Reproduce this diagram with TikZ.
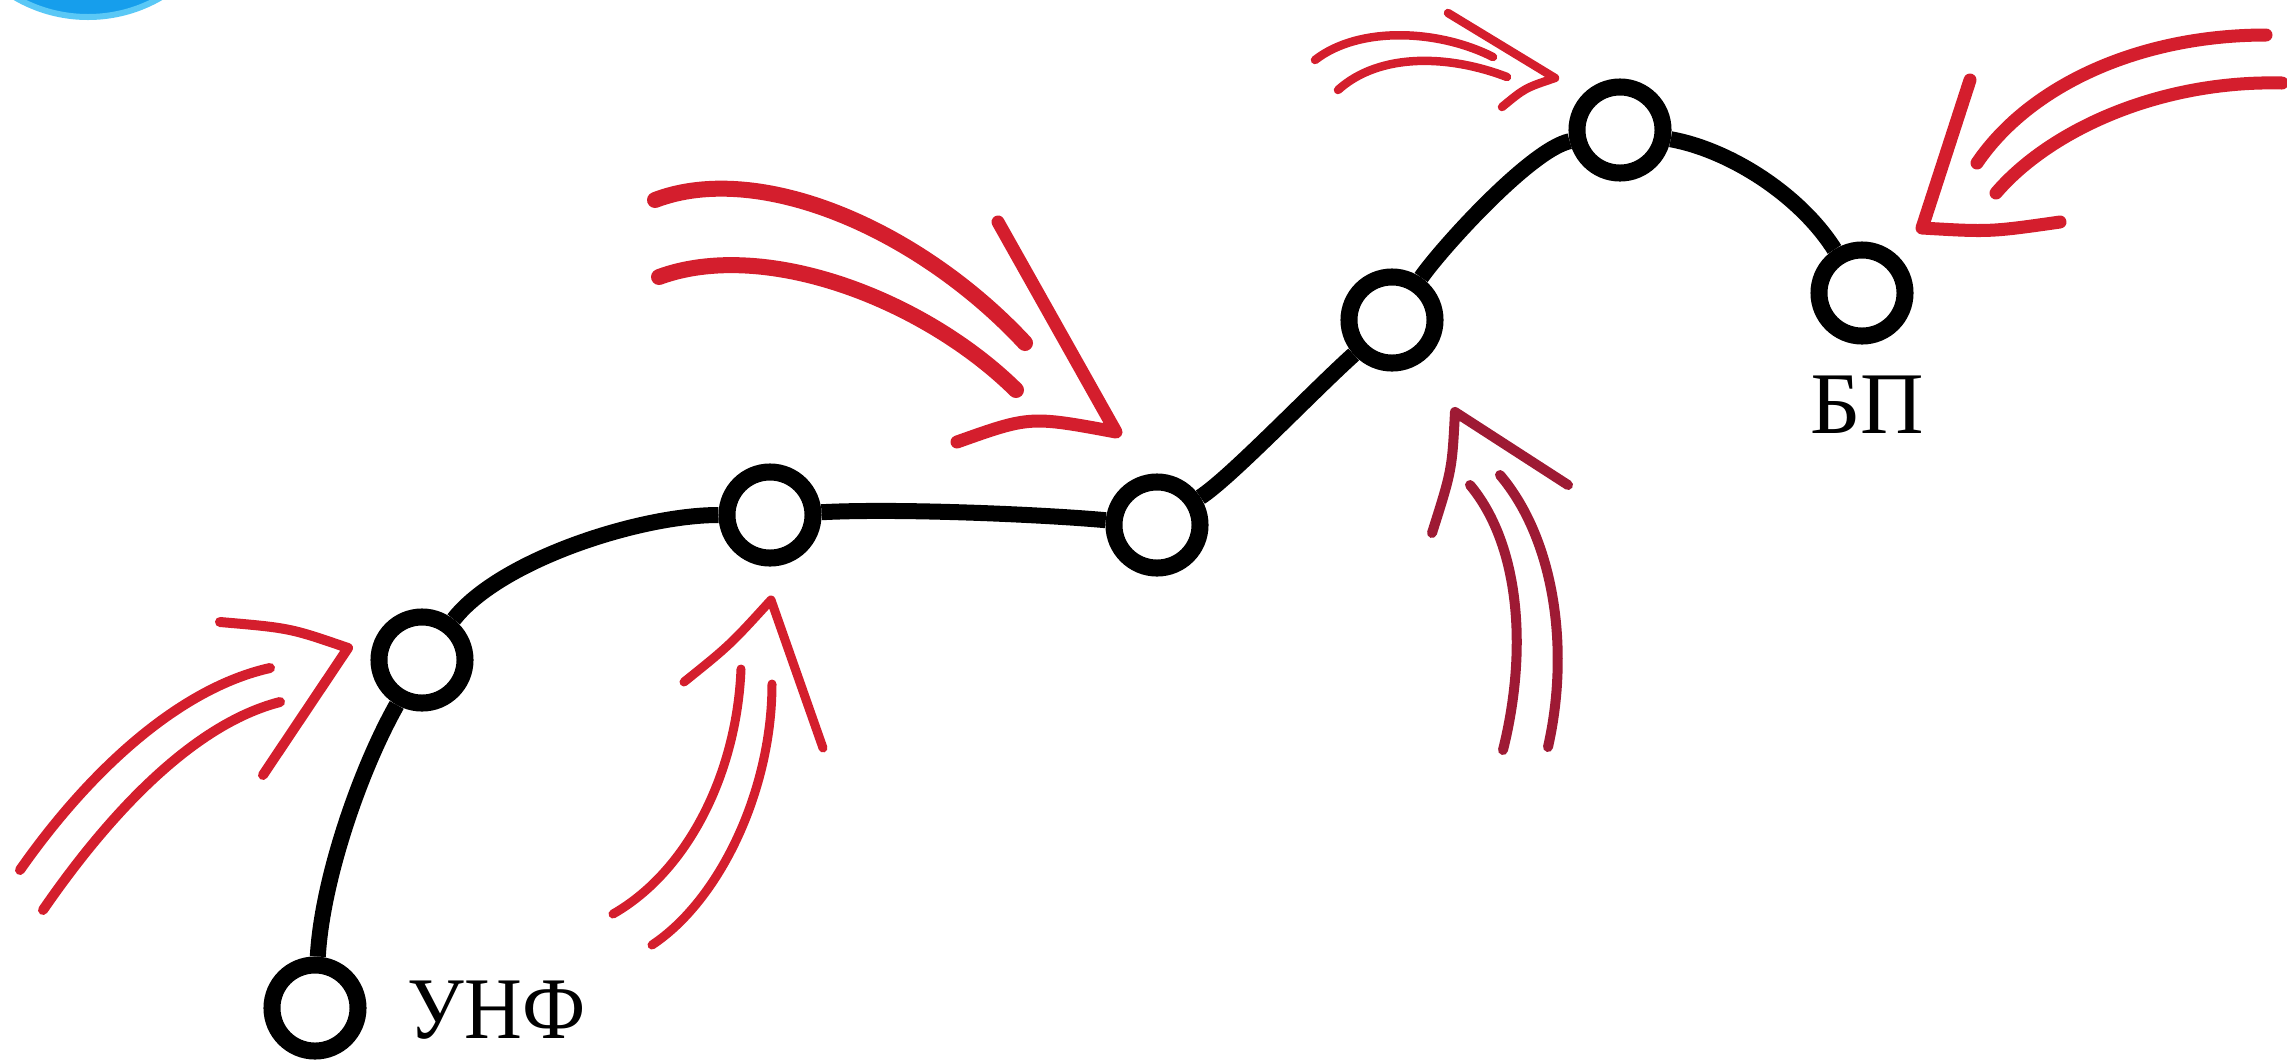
\documentclass[tikz,border=0pt]{standalone}
\usepackage{fontspec}
\setmainfont{Liberation Serif}
\usepackage{tikz}

\definecolor{rot}{RGB}{212,30,45}
\definecolor{dunkelrot}{RGB}{158,26,52}
\definecolor{himmel}{RGB}{22,158,236}
\definecolor{himmelrand}{RGB}{90,200,246}

\begin{document}
\begin{tikzpicture}[x=0.01cm,y=-0.01cm,
	punkt/.style={circle,draw=black,fill=white,line width=1.7mm,minimum size=8.6mm,inner sep=0pt},
	linie/.style={draw=black,line width=1.6mm},
	pfeil/.style={draw=rot,line width=1mm,line cap=round,line join=round},
	beschriftung/.style={font=\fontsize{25}{30}\selectfont,inner sep=0pt}]
			\useasboundingbox (0,0) rectangle (2287,1060);
			\fill[himmel,draw=himmelrand,line width=0.6mm] (88,-128) circle (145);

			% Pfeile
			\draw[pfeil] (20,870) .. controls (90,770) and (180,688) .. (270,668);
			\draw[pfeil] (43,910) .. controls (105,820) and (190,725) .. (280,702);
			\draw[pfeil] (220,622) .. controls (290,628) .. (348,648) -- (263,775);

			\draw[pfeil,line width=0.9mm] (741,669) .. controls (737,770) and (690,870) .. (613,914);
			\draw[pfeil,line width=0.9mm] (772,684) .. controls (772,790) and (720,900) .. (652,945);
			\draw[pfeil,line width=0.9mm] (684,682) .. controls (730,645) .. (771,600) -- (823,748);

			\draw[pfeil,line width=1.6mm] (655,200) .. controls (760,160) and (920,230) .. (1025,343);
			\draw[pfeil,line width=1.6mm] (659,277) .. controls (765,238) and (925,300) .. (1016,390);
			\draw[pfeil,line width=1.3mm] (998,222) -- (1116,432) .. controls (1030,416) .. (957,442);

			\draw[pfeil,line width=0.85mm] (1315,60) .. controls (1360,25) and (1440,30) .. (1493,57);
			\draw[pfeil,line width=0.85mm] (1338,90) .. controls (1380,52) and (1450,55) .. (1507,77);
			\draw[pfeil,line width=0.85mm] (1448,13) -- (1555,78) .. controls (1525,88) .. (1502,107);

			\draw[pfeil,line width=1.3mm] (2266,35) .. controls (2140,35) and (2030,85) .. (1977,163);
			\draw[pfeil,line width=1.3mm] (2282,83) .. controls (2160,80) and (2050,130) .. (1996,193);
			\draw[pfeil,line width=1.3mm] (1970,80) -- (1922,228) .. controls (1990,232) .. (2060,222);

			\draw[pfeil,draw=dunkelrot] (1470,485) .. controls (1520,545) and (1528,650) .. (1503,750);
			\draw[pfeil,draw=dunkelrot] (1500,475) .. controls (1555,540) and (1570,650) .. (1548,747);
			\draw[pfeil,draw=dunkelrot] (1432,533) .. controls (1452,470) .. (1455,412) -- (1568,485);

			% Punkte
			\node[punkt] (unf) at (315,1008) {};
			\node[punkt] (p1) at (422,660) {};
			\node[punkt] (p2) at (770,515) {};
			\node[punkt] (p3) at (1157,525) {};
			\node[punkt] (p4) at (1392,320) {};
			\node[punkt] (p5) at (1620,130) {};
			\node[punkt] (bp) at (1862,293) {};
			\node[beschriftung,anchor=base west] (unftext) at (407,1038) {\scalebox{0.91}[1]{УНФ}};
			\node[beschriftung,anchor=base] (bptext) at (1867,433) {БП};

			\draw[linie] (unf) .. controls (322,880) and (360,770) .. (p1);
			\draw[linie] (p1) .. controls (500,560) and (640,515) .. (p2);
			\draw[linie] (p2) .. controls (900,508) and (1050,515) .. (p3);
			\draw[linie] (p3) .. controls (1230,478) and (1312,392) .. (p4);
			\draw[linie] (p4) .. controls (1440,250) and (1530,150) .. (p5);
			\draw[linie] (p5) .. controls (1730,150) and (1800,195) .. (bp);
\end{tikzpicture}
\end{document}
